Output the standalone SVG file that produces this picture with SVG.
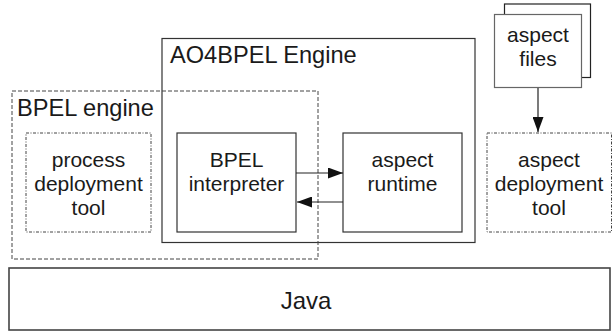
<svg xmlns="http://www.w3.org/2000/svg" width="613" height="334" viewBox="0 0 613 334">
  <defs>
    <style>
      .solid { fill: none; stroke: #333; stroke-width: 1.2; }
      .dashed { fill: none; stroke: #444; stroke-width: 1; stroke-dasharray: 4 2; }
      .dotted { fill: none; stroke: #444; stroke-width: 1; stroke-dasharray: 3 1.5 1 1.5; }
      .label { font-family: "Liberation Sans", Arial, sans-serif; font-size: 21px; fill: #1a1a1a; text-anchor: middle; }
      .title { font-family: "Liberation Sans", Arial, sans-serif; font-size: 23.6px; fill: #1a1a1a; }
      .conn { stroke: #222; stroke-width: 1.2; fill: none; }
    </style>
    <marker id="arrow" viewBox="0 0 15 11" refX="15" refY="5.5" markerWidth="15" markerHeight="11" markerUnits="userSpaceOnUse" orient="auto">
      <path d="M0,0 L15,5.5 L0,11 Z" fill="#111"/>
    </marker>
  </defs>

  <rect width="613" height="334" fill="#fff"/>

  <!-- AO4BPEL Engine container -->
  <g id="ao4bpel-engine">
    <rect class="solid" x="162" y="38.5" width="313" height="204"/>
    <text class="title" x="170" y="63">AO4BPEL Engine</text>
  </g>

  <!-- BPEL engine (dashed container) -->
  <g id="bpel-engine">
    <rect class="dashed" x="12" y="91" width="306" height="168"/>
    <text class="title" x="17" y="116">BPEL engine</text>
  </g>

  <!-- process deployment tool -->
  <g id="process-deployment-tool">
    <rect class="dotted" x="26" y="133" width="125" height="99"/>
    <text class="label" x="88.5" y="167">process</text>
    <text class="label" x="88.5" y="191">deployment</text>
    <text class="label" x="88.5" y="215">tool</text>
  </g>

  <!-- BPEL interpreter -->
  <g id="bpel-interpreter">
    <rect class="solid" x="177" y="133" width="119" height="99" stroke="#555"/>
    <text class="label" x="236.5" y="167">BPEL</text>
    <text class="label" x="236.5" y="191">interpreter</text>
  </g>

  <!-- aspect runtime -->
  <g id="aspect-runtime">
    <rect class="solid" x="343" y="133" width="119" height="99"/>
    <text class="label" x="402.5" y="167">aspect</text>
    <text class="label" x="402.5" y="191">runtime</text>
  </g>

  <!-- aspect files (stacked documents) -->
  <g id="aspect-files">
    <rect x="504.5" y="4" width="86" height="73.5" fill="#fff" stroke="#222" stroke-width="1.2"/>
    <rect x="494.5" y="14.5" width="87" height="73" fill="#fff" stroke="#666" stroke-width="1.2"/>
    <text class="label" x="538" y="42">aspect</text>
    <text class="label" x="538" y="66">files</text>
  </g>

  <!-- aspect deployment tool -->
  <g id="aspect-deployment-tool">
    <rect class="dotted" x="487" y="133" width="124.5" height="99"/>
    <text class="label" x="549" y="167">aspect</text>
    <text class="label" x="549" y="191">deployment</text>
    <text class="label" x="549" y="215">tool</text>
  </g>

  <!-- Java platform -->
  <g id="java">
    <rect x="9" y="268" width="601" height="62" fill="none" stroke="#444" stroke-width="1.6"/>
    <text class="label" x="306" y="309" style="font-size:24px">Java</text>
  </g>

  <!-- connectors -->
  <g id="connectors">
    <line class="conn" x1="296" y1="173" x2="343" y2="173" marker-end="url(#arrow)"/>
    <line class="conn" x1="343" y1="202" x2="297" y2="202" marker-end="url(#arrow)"/>
    <line class="conn" x1="538" y1="88" x2="538" y2="132" marker-end="url(#arrow)"/>
  </g>
</svg>
